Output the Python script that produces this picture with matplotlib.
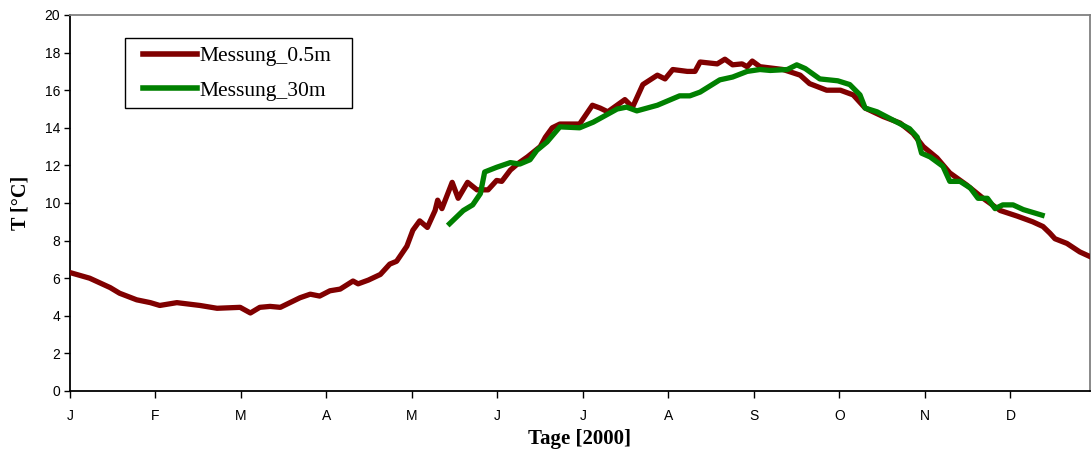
import matplotlib
matplotlib.use("Agg")
import matplotlib.pyplot as plt
from matplotlib.patches import Rectangle

# x positions in months since 1 Jan 2000, temperatures in °C
red_x = [0.00, 0.23, 0.47, 0.58, 0.78, 0.94, 1.05, 1.25, 1.52, 1.72, 1.99, 2.11, 2.22, 2.34,
         2.46, 2.69, 2.81, 2.92, 3.04, 3.16, 3.31, 3.37, 3.49, 3.63, 3.74, 3.82, 3.94, 4.01,
         4.09, 4.18, 4.27, 4.30, 4.35, 4.47, 4.54, 4.65, 4.76, 4.89, 4.99, 5.05, 5.15, 5.24,
         5.35, 5.50, 5.56, 5.64, 5.73, 5.96, 6.02, 6.11, 6.20, 6.29, 6.49, 6.58, 6.70, 6.87,
         6.96, 7.05, 7.22, 7.31, 7.37, 7.57, 7.66, 7.75, 7.86, 7.92, 7.98, 8.07, 8.34, 8.54,
         8.65, 8.85, 9.01, 9.16, 9.30, 9.51, 9.71, 9.86, 9.98, 10.14, 10.29, 10.49, 10.68,
         10.88, 11.08, 11.26, 11.38, 11.46, 11.52, 11.66, 11.81, 11.93]
red_t = [6.3, 6.0, 5.5, 5.2, 4.85, 4.7, 4.55, 4.7, 4.55, 4.4, 4.45, 4.15, 4.45, 4.5,
         4.45, 4.96, 5.15, 5.05, 5.33, 5.42, 5.85, 5.7, 5.9, 6.2, 6.75, 6.9, 7.7, 8.55,
         9.05, 8.7, 9.6, 10.15, 9.7, 11.1, 10.25, 11.1, 10.7, 10.7, 11.2, 11.15, 11.75, 12.1,
         12.45, 13.0, 13.5, 14.0, 14.2, 14.2, 14.6, 15.2, 15.05, 14.85, 15.5, 15.1, 16.3, 16.8,
         16.6, 17.1, 17.0, 17.0, 17.5, 17.4, 17.65, 17.35, 17.4, 17.25, 17.55, 17.25, 17.1, 16.8,
         16.35, 16.0, 16.0, 15.75, 15.05, 14.6, 14.25, 13.7, 13.0, 12.4, 11.6, 10.95, 10.25,
         9.6, 9.3, 9.0, 8.75, 8.4, 8.1, 7.85, 7.4, 7.15]

green_x = [4.44, 4.60, 4.71, 4.80, 4.85, 4.99, 5.15, 5.26, 5.38, 5.46, 5.58, 5.73, 5.96, 6.12,
           6.28, 6.40, 6.51, 6.63, 6.87, 7.13, 7.25, 7.37, 7.60, 7.75, 7.92, 8.07, 8.19, 8.39,
           8.50, 8.60, 8.77, 8.98, 9.12, 9.24, 9.30, 9.44, 9.63, 9.82, 9.91, 9.96, 10.06, 10.21,
           10.29, 10.41, 10.53, 10.62, 10.73, 10.82, 10.91, 11.03, 11.15, 11.37]
green_t = [8.9, 9.6, 9.9, 10.5, 11.65, 11.9, 12.15, 12.07, 12.3, 12.8, 13.25, 14.05, 14.0, 14.3,
           14.7, 15.0, 15.1, 14.9, 15.2, 15.7, 15.7, 15.9, 16.55, 16.7, 17.0, 17.1, 17.05, 17.1,
           17.35, 17.15, 16.6, 16.5, 16.3, 15.75, 15.05, 14.85, 14.4, 13.95, 13.5, 12.65, 12.45, 11.95,
           11.15, 11.15, 10.8, 10.25, 10.25, 9.7, 9.9, 9.9, 9.65, 9.35]

month_labels = ["J", "F", "M", "A", "M", "J", "J", "A", "S", "O", "N", "D"]
series_names = ["Messung_0.5m", "Messung_30m"]

W, H = 1091, 454
fig = plt.figure(figsize=(W / 100, H / 100), dpi=100)
ax = fig.add_axes([70 / W, 1 - 391 / H, 1020 / W, 376 / H])

ax.plot(red_x, red_t, color="#800000", lw=3.8, solid_joinstyle="round", label=series_names[0], zorder=3)
ax.plot(green_x, green_t, color="#008000", lw=3.8, solid_joinstyle="round", label=series_names[1], zorder=4)

ax.set_xlim(0, 11.93)
ax.set_ylim(0, 20)
ax.set_yticks(range(0, 21, 2))
ax.set_xticks(range(12))
ax.set_xticklabels(month_labels)

for lab in ax.get_xticklabels() + ax.get_yticklabels():
    lab.set_fontfamily("Liberation Sans")
    lab.set_fontsize(10)
ax.tick_params(axis="x", direction="out", length=5, width=1, pad=8, colors="black")
ax.tick_params(axis="y", direction="out", length=4, width=1, pad=3, colors="black")

for side in ("left", "bottom"):
    ax.spines[side].set_color("black")
    ax.spines[side].set_linewidth(1.3)
for side in ("top", "right"):
    ax.spines[side].set_color("#808080")
    ax.spines[side].set_linewidth(1.3)

ax.set_xlabel("Tage [2000]", fontfamily="Liberation Serif", fontweight="bold", fontsize=15, labelpad=4)
ax.set_ylabel("T [°C]", fontfamily="Liberation Serif", fontweight="bold", fontsize=14.5, labelpad=10)

# legend frame (drawn separately so padding matches the reference)
x0, y0 = (125 - 70) / 1020, (391 - 108) / 376
ax.add_patch(Rectangle((x0, y0), (352 - 125) / 1020, (108 - 38) / 376, transform=ax.transAxes,
                       facecolor="white", edgecolor="black", lw=1.0, zorder=5))
leg = ax.legend(loc="upper left", bbox_to_anchor=((143 - 70) / 1020, (391 - 46) / 376),
                borderaxespad=0, frameon=False,
                prop={"family": "Liberation Serif", "size": 15.5},
                handlelength=2.5, handletextpad=0.1, labelspacing=0.68, borderpad=0)
leg.set_zorder(6)
for line in leg.get_lines():
    line.set_linewidth(4)

fig.savefig("out.png", dpi=100)
